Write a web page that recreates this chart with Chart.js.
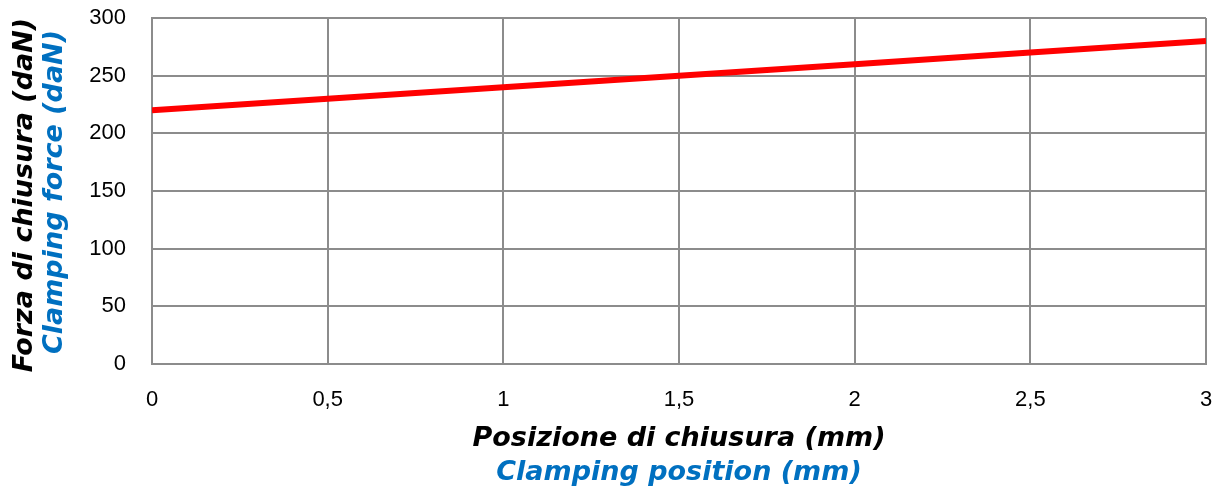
<!DOCTYPE html>
<html>
<head>
<meta charset="utf-8">
<script src="https://cdn.jsdelivr.net/npm/chart.js@4"></script>
<style>
  html, body { margin: 0; padding: 0; background: #fff; }
  #wrap { width: 1221px; height: 488px; }
</style>
</head>
<body>
<div id="wrap"><canvas id="c" width="1221" height="488"></canvas></div>
<script>
const positions = [0, 0.5, 1, 1.5, 2, 2.5, 3];
const forces = [220, 230, 240, 250, 260, 270, 280];
const yTitleLines = ['Forza di chiusura (daN)', 'Clamping force (daN)'];
const xTitleLines = ['Posizione di chiusura (mm)', 'Clamping position (mm)'];
const titleColors = ['#000000', '#0070C0'];

const titleFont = 'italic bold 27px "DejaVu Sans"';

const titlesPlugin = {
  id: 'twoColorTitles',
  afterDraw(chart) {
    const ctx = chart.ctx;
    const a = chart.chartArea;
    ctx.save();
    ctx.font = titleFont;
    ctx.textAlign = 'center';
    ctx.textBaseline = 'middle';
    const cx = (a.left + a.right) / 2;
    const xs = [439, 473];
    xTitleLines.forEach((t, i) => {
      ctx.fillStyle = titleColors[i];
      ctx.fillText(t, cx, xs[i]);
    });
    const cy = (a.top + a.bottom) / 2;
    const ys = [25, 55];
    const dy = [4, 1];
    yTitleLines.forEach((t, i) => {
      ctx.save();
      ctx.translate(ys[i], cy + dy[i]);
      ctx.rotate(-Math.PI / 2);
      ctx.fillStyle = titleColors[i];
      ctx.fillText(t, 0, 0);
      ctx.restore();
    });
    ctx.restore();
  }
};

const tickFont = { family: '"Liberation Sans", Arial, sans-serif', size: 22 };

new Chart(document.getElementById('c'), {
  type: 'line',
  data: {
    datasets: [{
      data: positions.map((p, i) => ({ x: p, y: forces[i] })),
      borderColor: '#FF0000',
      borderWidth: 6,
      pointRadius: 0,
      tension: 0,
      fill: false
    }]
  },
  options: {
    responsive: false,
    animation: false,
    layout: { padding: { top: 18, right: 15, left: 0, bottom: 0 } },
    plugins: { legend: { display: false }, tooltip: { enabled: false } },
    scales: {
      x: {
        type: 'linear',
        min: 0, max: 3,
        ticks: {
          stepSize: 0.5,
          color: '#000',
          font: tickFont,
          padding: 23,
          callback: v => String(v).replace('.', ',')
        },
        grid: { color: '#8c8c8c', lineWidth: 2, drawTicks: false },
        border: { color: '#8c8c8c', width: 2 },
        afterFit(s) { s.height = 124; s.paddingLeft = 0; s.paddingRight = 0; }
      },
      y: {
        min: 0, max: 300,
        ticks: { stepSize: 50, color: '#000', font: tickFont, padding: 26 },
        grid: { color: '#8c8c8c', lineWidth: 2, drawTicks: false },
        border: { color: '#8c8c8c', width: 2 },
        afterFit(s) { s.width = 152; s.paddingTop = 0; s.paddingBottom = 0; }
      }
    }
  },
  plugins: [titlesPlugin]
});
</script>
</body>
</html>
